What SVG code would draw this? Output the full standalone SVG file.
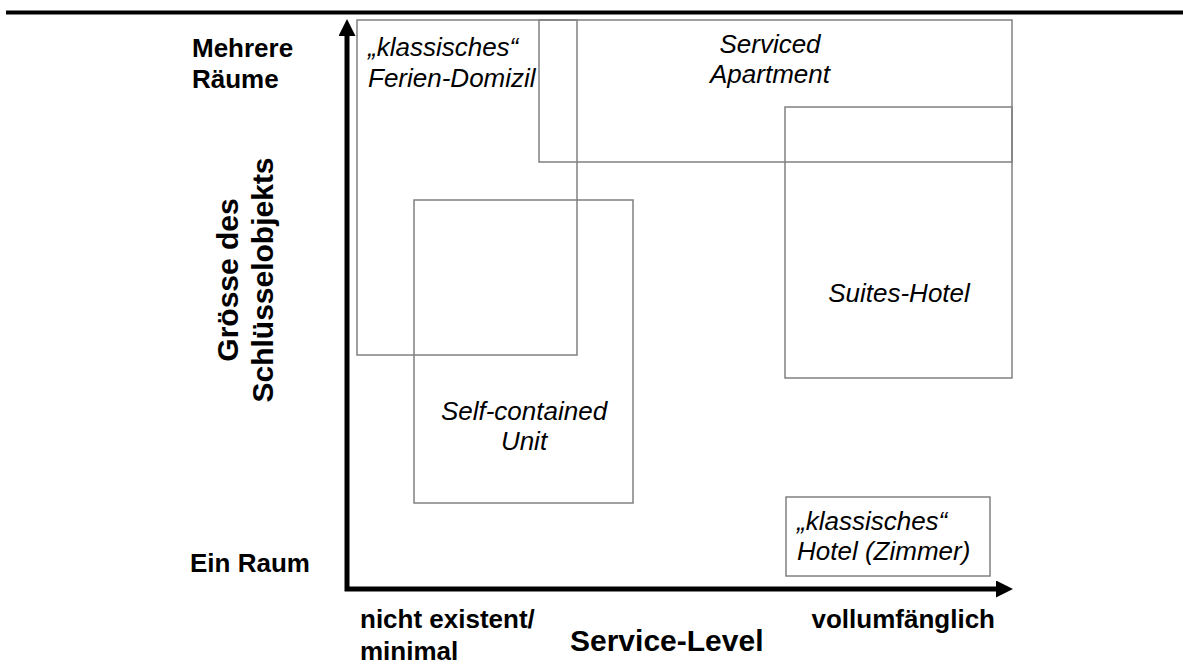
<svg xmlns="http://www.w3.org/2000/svg" width="1183" height="672" viewBox="0 0 1183 672">
<style>
.box{fill:none;stroke:#808080;stroke-width:1.5}
.it{font-family:"Liberation Sans",Arial,sans-serif;font-style:italic;font-size:26px;fill:#000}
.bd{font-family:"Liberation Sans",Arial,sans-serif;font-weight:bold;font-size:26px;fill:#000}
.mid{text-anchor:middle}
.axis{fill:none;stroke:#000;stroke-width:5;stroke-linejoin:miter}
</style>
<defs>
<marker id="ah" markerUnits="userSpaceOnUse" viewBox="0 0 17 17" refX="0" refY="8.5" markerWidth="17" markerHeight="17" orient="auto-start-reverse">
<path d="M0,0 L17,8.5 L0,17 Z" fill="#000"/>
</marker>
</defs>
<rect width="1183" height="672" fill="#fff"/>
<line x1="6" y1="12.5" x2="1183" y2="12.5" stroke="#000" stroke-width="4"/>
<g id="node-ferien">
<rect class="box" x="357" y="20" width="220" height="335"/>
<text class="it" x="368" y="56">„klassisches“</text>
<text class="it" x="368" y="87">Ferien-Domizil</text>
</g>
<g id="node-serviced">
<rect class="box" x="539" y="20" width="473" height="142"/>
<text class="it mid" x="770" y="53">Serviced</text>
<text class="it mid" x="770" y="83">Apartment</text>
</g>
<g id="node-suites">
<rect class="box" x="785" y="107" width="227" height="271"/>
<text class="it mid" x="899" y="302">Suites-Hotel</text>
</g>
<g id="node-selfcontained">
<rect class="box" x="414" y="200" width="219" height="303"/>
<text class="it mid" x="524" y="420">Self-contained</text>
<text class="it mid" x="524" y="450">Unit</text>
</g>
<g id="node-hotel">
<rect class="box" x="786" y="497" width="204" height="79"/>
<text class="it" x="797" y="530">„klassisches“</text>
<text class="it" x="797" y="560">Hotel (Zimmer)</text>
</g>
<g id="connectors">
<path class="axis" d="M347,36 L347,589 L996,589" marker-start="url(#ah)" marker-end="url(#ah)"/>
</g>
<g id="labels">
<text class="bd" x="192" y="57">Mehrere</text>
<text class="bd" x="192" y="88">Räume</text>
<text class="bd" x="190" y="572">Ein Raum</text>
<text class="bd" transform="translate(238,280) rotate(-90)" text-anchor="middle" style="font-size:30px">Grösse des</text>
<text class="bd" transform="translate(273,280) rotate(-90)" text-anchor="middle" style="font-size:30px">Schlüsselobjekts</text>
<text class="bd" x="360" y="628">nicht existent/</text>
<text class="bd" x="360" y="660">minimal</text>
<text class="bd" x="570" y="651" style="font-size:30px">Service-Level</text>
<text class="bd" x="995" y="628" text-anchor="end">vollumfänglich</text>
</g>
</svg>
